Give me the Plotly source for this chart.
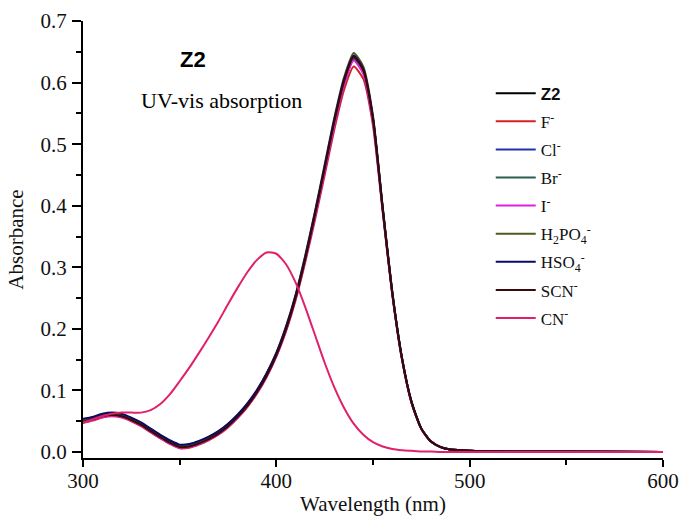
import plotly.graph_objects as go

wavelength = [300, 305, 310, 315, 320, 325, 330, 335, 340, 345,
              350, 355, 360, 365, 370, 375, 380, 385, 390, 395,
              400, 405, 410, 415, 420, 425, 430, 435, 440, 445,
              450, 455, 460, 465, 470, 475, 480, 485, 490, 495,
              500, 520, 550, 600]

z2 = [0.050, 0.054, 0.059, 0.061, 0.059, 0.053, 0.045, 0.035, 0.025, 0.016,
      0.009, 0.010, 0.015, 0.022, 0.031, 0.043, 0.058, 0.076, 0.098, 0.125,
      0.158, 0.200, 0.252, 0.315, 0.385, 0.460, 0.535, 0.600, 0.640, 0.618,
      0.540, 0.395, 0.258, 0.152, 0.080, 0.038, 0.017, 0.008, 0.004, 0.003,
      0.002, 0.001, 0.001, 0.000]

f_ion = [0.047, 0.051, 0.056, 0.058, 0.056, 0.050, 0.042, 0.032, 0.022, 0.013,
         0.006, 0.007, 0.012, 0.019, 0.028, 0.040, 0.055, 0.073, 0.095, 0.122,
         0.155, 0.196, 0.247, 0.309, 0.377, 0.450, 0.524, 0.588, 0.626, 0.606,
         0.530, 0.390, 0.255, 0.150, 0.079, 0.037, 0.017, 0.008, 0.004, 0.003,
         0.002, 0.001, 0.001, 0.000]

cl_ion = [0.053, 0.056, 0.061, 0.063, 0.061, 0.055, 0.047, 0.037, 0.026, 0.017,
          0.010, 0.011, 0.016, 0.023, 0.032, 0.044, 0.059, 0.077, 0.099, 0.126,
          0.159, 0.200, 0.252, 0.314, 0.384, 0.458, 0.533, 0.598, 0.638, 0.616,
          0.538, 0.394, 0.257, 0.151, 0.080, 0.038, 0.017, 0.008, 0.004, 0.003,
          0.002, 0.001, 0.001, 0.000]

br_ion = [0.051, 0.055, 0.060, 0.062, 0.060, 0.054, 0.046, 0.036, 0.025, 0.016,
          0.009, 0.010, 0.015, 0.022, 0.031, 0.043, 0.058, 0.076, 0.098, 0.125,
          0.158, 0.200, 0.252, 0.315, 0.385, 0.460, 0.535, 0.600, 0.640, 0.618,
          0.540, 0.396, 0.258, 0.152, 0.080, 0.038, 0.017, 0.008, 0.004, 0.003,
          0.002, 0.001, 0.001, 0.000]

i_ion = [0.048, 0.052, 0.057, 0.059, 0.057, 0.051, 0.043, 0.033, 0.023, 0.014,
         0.007, 0.008, 0.013, 0.020, 0.029, 0.041, 0.056, 0.074, 0.096, 0.123,
         0.156, 0.198, 0.250, 0.312, 0.382, 0.456, 0.531, 0.596, 0.636, 0.614,
         0.536, 0.393, 0.256, 0.151, 0.079, 0.038, 0.017, 0.008, 0.004, 0.003,
         0.002, 0.001, 0.001, 0.000]

h2po4_ion = [0.052, 0.056, 0.061, 0.063, 0.061, 0.055, 0.047, 0.037, 0.027, 0.018,
             0.011, 0.012, 0.017, 0.024, 0.033, 0.045, 0.060, 0.078, 0.100, 0.128,
             0.161, 0.204, 0.256, 0.320, 0.391, 0.467, 0.543, 0.608, 0.648, 0.626,
             0.546, 0.399, 0.260, 0.153, 0.081, 0.038, 0.017, 0.008, 0.004, 0.003,
             0.002, 0.001, 0.001, 0.000]

hso4_ion = [0.054, 0.057, 0.062, 0.064, 0.062, 0.056, 0.048, 0.038, 0.028, 0.019,
            0.012, 0.013, 0.018, 0.025, 0.034, 0.046, 0.061, 0.079, 0.101, 0.128,
            0.161, 0.203, 0.255, 0.318, 0.389, 0.464, 0.540, 0.605, 0.644, 0.622,
            0.543, 0.397, 0.259, 0.153, 0.081, 0.038, 0.017, 0.008, 0.004, 0.003,
            0.002, 0.001, 0.001, 0.000]

scn_ion = [0.049, 0.053, 0.058, 0.060, 0.058, 0.052, 0.044, 0.034, 0.024, 0.015,
           0.008, 0.009, 0.014, 0.021, 0.030, 0.042, 0.057, 0.075, 0.097, 0.124,
           0.157, 0.199, 0.251, 0.314, 0.386, 0.461, 0.537, 0.602, 0.642, 0.620,
           0.541, 0.396, 0.258, 0.152, 0.080, 0.038, 0.017, 0.008, 0.004, 0.003,
           0.002, 0.001, 0.001, 0.000]

cn_ion = [0.048, 0.053, 0.058, 0.062, 0.064, 0.064, 0.064, 0.068, 0.078, 0.094,
          0.115, 0.137, 0.161, 0.186, 0.212, 0.240, 0.267, 0.292, 0.312, 0.324,
          0.322, 0.305, 0.275, 0.235, 0.190, 0.145, 0.105, 0.072, 0.046, 0.028,
          0.016, 0.009, 0.005, 0.003, 0.002, 0.001, 0.001, 0.000, 0.000, 0.000,
          0.000, 0.000, 0.000, 0.000]

series_names = ["<span style='font-family:Arial;font-weight:bold'>Z2</span>",
                "F<sup>-</sup>", "Cl<sup>-</sup>", "Br<sup>-</sup>", "I<sup>-</sup>",
                "H<sub>2</sub>PO<sub>4</sub><sup>-</sup>", "HSO<sub>4</sub><sup>-</sup>",
                "SCN<sup>-</sup>", "CN<sup>-</sup>"]
series_values = [z2, f_ion, cl_ion, br_ion, i_ion, h2po4_ion, hso4_ion, scn_ion, cn_ion]
series_colors = ["#000000", "#d42222", "#2233aa", "#2a5c50", "#dd22dd",
                 "#4f5a1e", "#0a0a66", "#3a0808", "#e0206a"]

fig = go.Figure()
for i, (name, vals, col) in enumerate(zip(series_names, series_values, series_colors)):
    fig.add_trace(go.Scatter(x=wavelength, y=vals, mode="lines", name=name,
                             legendgroup=str(i),
                             line=dict(color=col, width=2, shape="spline", smoothing=0.6)))

serif = "Liberation Serif, Times New Roman, serif"

fig.update_layout(
    width=681, height=516,
    margin=dict(l=83, r=18, t=21, b=58),
    paper_bgcolor="white", plot_bgcolor="white",
    font=dict(family=serif, size=17, color="#111111"),
    showlegend=True,
    legend=dict(x=0.703, y=0.875, xanchor="left", yanchor="top",
                bgcolor="rgba(0,0,0,0)", font=dict(family=serif, size=17),
                tracegroupgap=3, itemwidth=40),
    xaxis=dict(range=[300, 600], tick0=300, dtick=100, showgrid=False, zeroline=False,
               automargin=False,
               showline=True, linecolor="black", linewidth=2,
               ticks="outside", ticklen=7, tickwidth=1.5, tickcolor="black",
               minor=dict(ticks="outside", dtick=50, ticklen=5, tickcolor="black", tickwidth=1.5),
               tickfont=dict(size=21), ticklabelstandoff=-4,
               title=dict(text="Wavelength (nm)", font=dict(size=21), standoff=6)),
    yaxis=dict(range=[-0.0097, 0.7], tick0=0, dtick=0.1, tickformat=".1f",
               showgrid=False, zeroline=False,
               automargin=False,
               showline=True, linecolor="black", linewidth=2,
               ticks="outside", ticklen=9, tickwidth=1.5, tickcolor="black",
               minor=dict(ticks="outside", dtick=0.05, ticklen=5, tickcolor="black", tickwidth=1.5),
               tickfont=dict(size=21), ticklabelstandoff=1,
               title=dict(text="Absorbance", font=dict(size=21), standoff=11)),
    annotations=[
        dict(text="<b>Z2</b>", xref="paper", yref="paper", x=0.19, y=0.911,
             xanchor="center", yanchor="middle",
             showarrow=False, font=dict(family="Liberation Sans, Arial", size=22, color="black")),
        dict(text="UV-vis absorption", xref="paper", yref="paper", x=0.238, y=0.819,
             xanchor="center", yanchor="middle",
             showarrow=False, font=dict(family=serif, size=22, color="black")),
    ],
)

fig.write_html("out.html", config={"displayModeBar": False},
               post_script="document.body.style.margin='0';")
